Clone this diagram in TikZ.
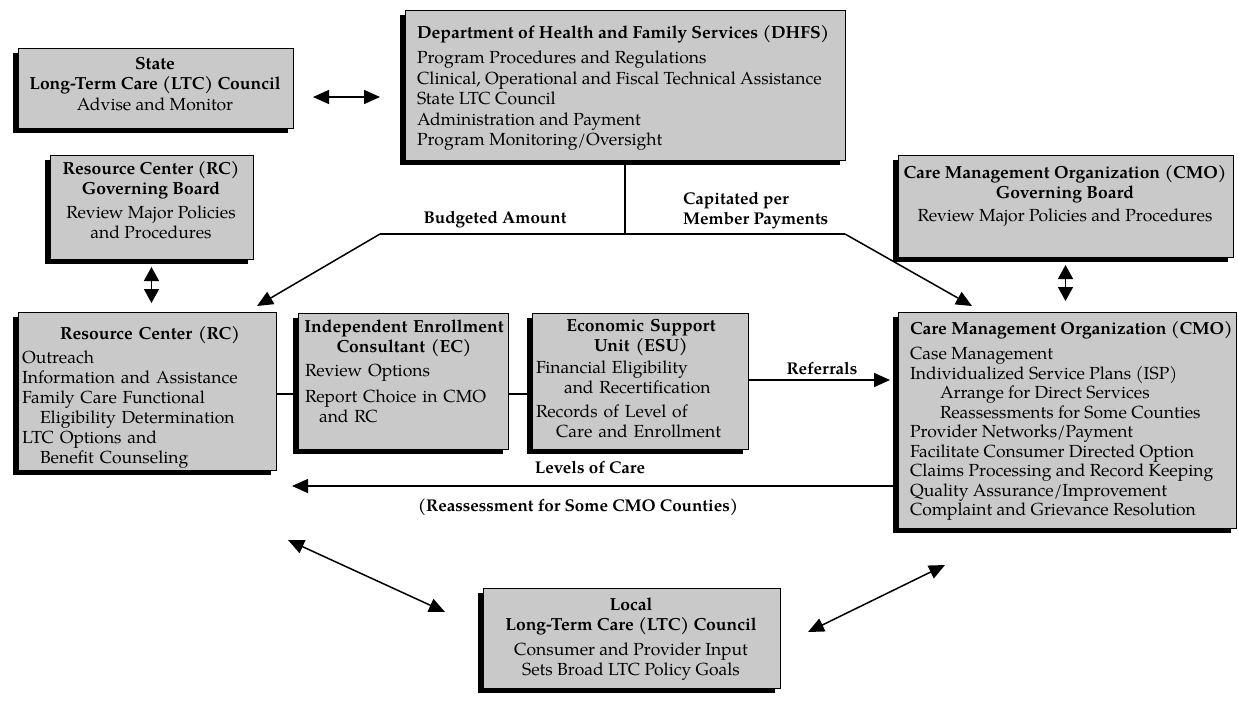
\documentclass[tikz,border=0pt]{standalone}
\usepackage{fontspec}
\setmainfont{TeX Gyre Pagella}
\usetikzlibrary{arrows.meta,shadows}
\definecolor{boxgray}{gray}{0.79}
\newcommand\mkpanel[5]{\node[panel, minimum width={(#4-#2)*1pt}, minimum height={(#5-#3)*1pt}] (#1) at ({(#2+#4)/2},{(#3+#5)/2}) {};}
\begin{document}
\begin{tikzpicture}[x=1pt,y=-1pt,
  panel/.style={draw=black,line width=0.7pt,fill=boxgray,inner sep=0pt,outer sep=0pt,
    general shadow={fill=black,shadow xshift=-5pt,shadow yshift=-5pt}},
  txt/.style={inner sep=0pt,outer sep=0pt,font=\fontsize{17.5}{20}\selectfont},
  lbl/.style={inner sep=0pt,font=\fontsize{17}{20}\selectfont\bfseries},
  link/.style={line width=1.5pt},
  tip/.style={line width=1.5pt,-{Triangle[length=16pt,width=14pt]}},
  both/.style={line width=1.5pt,{Triangle[length=16pt,width=14pt]}-{Triangle[length=16pt,width=14pt]}},
  vboth/.style={line width=1.5pt,{Triangle[length=14pt,width=15pt]}-{Triangle[length=14pt,width=15pt]}},
]
\fill[white] (0,0) rectangle (1238,709);
\useasboundingbox (0,0) rectangle (1238,709);

% boxes
\mkpanel{state}{18}{48}{293}{128}
\mkpanel{dhfs}{405}{10}{845}{160}
\mkpanel{rcgb}{50}{155}{253}{259}
\mkpanel{cmogb}{898}{155}{1233}{257}
\mkpanel{rc}{18}{312}{276}{470}
\mkpanel{ec}{298}{313}{508}{449}
\mkpanel{esu}{532}{313}{748}{449}
\mkpanel{cmo}{898}{312}{1236}{528}
\mkpanel{local}{483}{588}{780}{688}

% texts
\node[txt,align=center,anchor=north] (statet) at (155,57)
  {\textbf{State}\\\textbf{Long-Term Care (LTC) Council}\\[1pt]Advise and Monitor};
\node[txt,align=left,anchor=north west,font=\fontsize{17.5}{20.5}\selectfont] (dhfst) at (417,25)
  {\textbf{Department of Health and Family Services (DHFS)}\\[5pt]
   Program Procedures and Regulations\\
   Clinical, Operational and Fiscal Technical Assistance\\
   State LTC Council\\
   Administration and Payment\\
   Program Monitoring/Oversight};
\node[txt,align=center,anchor=north] (rcgbt) at (151,161)
  {\textbf{Resource Center (RC)}\\\textbf{Governing Board}\\[4pt]Review Major Policies\\and Procedures};
\node[txt,align=center,anchor=north] (cmogbt) at (1065,165)
  {\textbf{Care Management Organization (CMO)}\\\textbf{Governing Board}\\[3pt]Review Major Policies and Procedures};
\node[txt,text width=256pt,align=left,anchor=north west] (rct) at (22,326)
  {{\centering\mbox{\textbf{Resource Center (RC)}}\par}\vspace{4pt}
   Outreach\\
   Information and Assistance\\
   Family Care Functional\\
   \hspace*{18pt}Eligibility Determination\\
   LTC Options and\\
   \hspace*{18pt}Benefit Counseling};
\node[txt,text width=210pt,align=left,anchor=north west] (ect) at (299,320)
  {{\centering\mbox{\textbf{Independent Enrollment}}\\\mbox{\textbf{Consultant (EC)}}\par}\vspace{4pt}
   \hspace*{6pt}Review Options\\[6pt]
   \hspace*{6pt}Report Choice in CMO\\
   \hspace*{20pt}and RC};
\node[txt,text width=210pt,align=left,anchor=north west] (esut) at (536,319)
  {{\centering\mbox{\textbf{Economic Support}}\\\mbox{\textbf{Unit (ESU)}}\par}\vspace{2pt}
   Financial Eligibility\\
   \hspace*{28pt}and Recertification\\[4pt]
   Records of Level of\\
   \hspace*{20pt}Care and Enrollment};
\node[txt,align=left,anchor=north west,font=\fontsize{17.5}{19.5}\selectfont] (cmot) at (910,321)
  {\textbf{Care Management Organization (CMO)}\\[6pt]
   Case Management\\
   Individualized Service Plans (ISP)\\
   \hspace*{30pt}Arrange for Direct Services\\
   \hspace*{30pt}Reassessments for Some Counties\\
   Provider Networks/Payment\\
   Facilitate Consumer Directed Option\\
   Claims Processing and Record Keeping\\
   Quality Assurance/Improvement\\
   Complaint and Grievance Resolution};
\node[txt,align=center,anchor=north] (localt) at (631,598)
  {\textbf{Local}\\\textbf{Long-Term Care (LTC) Council}\\[5pt]Consumer and Provider Input\\Sets Broad LTC Policy Goals};

% labels
\node[lbl] (budget) at (495,220) {Budgeted Amount};
\node[lbl,align=left,anchor=west] (capit) at (683,211) {Capitated per\\Member Payments};
\node[lbl] (refl) at (822,369) {Referrals};
\node[lbl] (lvl) at (590,468) {Levels of Care};
\node[lbl] (reas) at (578,507) {(Reassessment for Some CMO Counties)};

% connectors
\coordinate (sd) at (0,97);
\draw[both,shorten <=20pt,shorten >=25pt] (state.east |- sd) -- (dhfs.west |- sd);

\coordinate (jl) at (380,234);
\coordinate (jr) at (845,234);
\coordinate (jm) at (625,234);
\coordinate (rctip) at (257,306);
\coordinate (cmotip) at (972,306);
\draw[link] (dhfs.south -| jm) -- (jm);
\draw[link] (jl) -- (jr);
\draw[tip] (jl) -- (rctip);
\draw[tip] (jr) -- (cmotip);

\draw[vboth,shorten <=8pt,shorten >=9pt] (rcgb.south) -- (rcgb.south |- rc.north);
\draw[vboth,shorten <=8pt,shorten >=11pt] (cmogb.south) -- (cmogb.south |- cmo.north);

\coordinate (cy) at (0,394);
\draw[link] (rc.east |- cy) -- (ec.west |- cy);
\draw[link] (ec.east |- cy) -- (esu.west |- cy);

\coordinate (ry) at (0,380);
\draw[tip,shorten >=8pt] (esu.east |- ry) -- (cmo.west |- ry);

\coordinate (lvtip) at (292,486);
\draw[tip] (cmo.west |- lvtip) -- (lvtip);

\coordinate (la) at (288,540);
\coordinate (lb) at (445,612);
\draw[both] (la) -- (lb);
\coordinate (ra) at (808,632);
\coordinate (rb) at (945,565);
\draw[both] (ra) -- (rb);
\end{tikzpicture}
\end{document}
